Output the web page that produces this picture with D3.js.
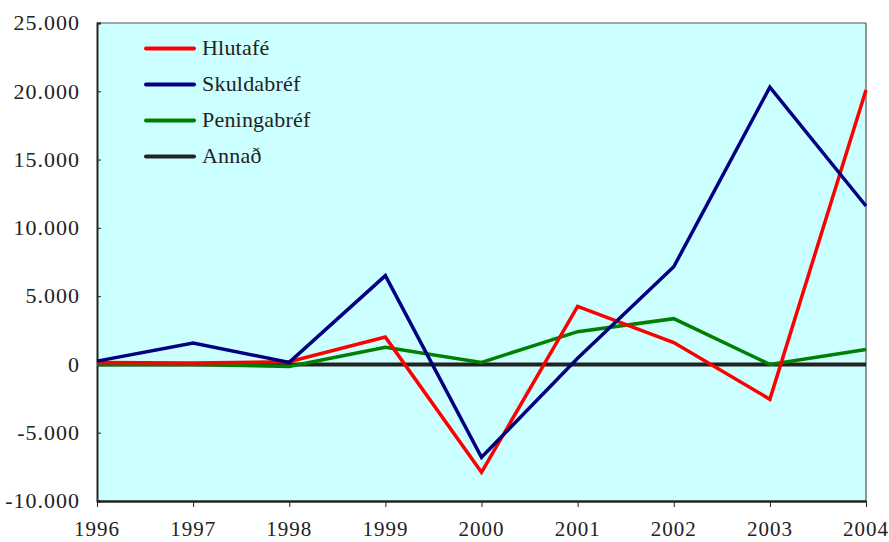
<!DOCTYPE html>
<html>
<head>
<meta charset="utf-8">
<script src="https://cdn.jsdelivr.net/npm/d3@7"></script>
<style>
  body { margin: 0; background: #fff; }
</style>
</head>
<body>
<svg id="chart" width="889" height="542"></svg>
<script>
// years on the x axis
const years = [1996, 1997, 1998, 1999, 2000, 2001, 2002, 2003, 2004];

// series values
const hlutafe     = [150, 100, 200, 2000, -7900, 4250, 1600, -2550, 20100];
const skuldabref  = [240, 1560, 150, 6500, -6800, 450, 7150, 20300, 11600];
const peningabref = [0, 0, -150, 1250, 150, 2400, 3350, 0, 1100];
const annad       = [0, 0, 0, 0, 0, 0, 0, 0, 0];

const seriesNames  = ['Hlutafé', 'Skuldabréf', 'Peningabréf', 'Annað'];
const seriesColors = ['#ff0000', '#000080', '#008000', '#222222'];
const seriesValues = [hlutafe, skuldabref, peningabref, annad];

const yTicks = [-10000, -5000, 0, 5000, 10000, 15000, 20000, 25000];

const FONT = "'Liberation Serif', 'DejaVu Serif', serif";

const margin = {top: 23, right: 23, bottom: 41, left: 97};
const width = 889, height = 542;

const svg = d3.select('#chart');

const x = d3.scaleLinear()
  .domain(d3.extent(years))
  .range([margin.left, width - margin.right]);
const y = d3.scaleLinear()
  .domain([-10000, 25000])
  .range([height - margin.bottom, margin.top]);

// Icelandic style: dot as thousands separator, plain hyphen for minus
const fmt = v => {
  const s = String(Math.abs(v)).replace(/\B(?=(\d{3})+(?!\d))/g, '.');
  return v < 0 ? '-' + s : s;
};

// plot background
svg.append('rect')
  .attr('x', x.range()[0]).attr('y', y.range()[1])
  .attr('width', x.range()[1] - x.range()[0])
  .attr('height', y.range()[0] - y.range()[1])
  .attr('fill', '#ccffff');

// top and right border
svg.append('line')
  .attr('x1', x.range()[0]).attr('x2', x.range()[1])
  .attr('y1', y.range()[1]).attr('y2', y.range()[1])
  .attr('stroke', '#7f8c8c').attr('stroke-width', 1.5);
svg.append('line')
  .attr('x1', x.range()[1]).attr('x2', x.range()[1])
  .attr('y1', y.range()[1]).attr('y2', y.range()[0])
  .attr('stroke', '#333').attr('stroke-width', 1);

// y axis, ticks pointing inward
const yAxis = svg.append('g')
  .attr('transform', `translate(${x.range()[0]},0)`)
  .call(d3.axisRight(y).tickValues(yTicks).tickSize(4).tickFormat(''));
yAxis.select('.domain').attr('stroke', '#222').attr('stroke-width', 2);
yAxis.selectAll('.tick line').attr('stroke', '#222');

svg.append('g').selectAll('text')
  .data(yTicks)
  .join('text')
  .attr('x', 80)
  .attr('y', d => y(d))
  .attr('dy', '0.33em')
  .attr('text-anchor', 'end')
  .style('font-family', FONT)
  .style('font-size', '22px')
  .style('letter-spacing', '1px')
  .attr('fill', '#222')
  .text(fmt);

// x axis
const xAxis = svg.append('g')
  .attr('transform', `translate(0,${y.range()[0]})`)
  .call(d3.axisBottom(x).tickValues(years).tickSize(6).tickSizeOuter(0).tickFormat(''));
xAxis.select('.domain').attr('stroke', '#222').attr('stroke-width', 2.5);
xAxis.selectAll('.tick line').attr('stroke', '#222');

svg.append('g').selectAll('text')
  .data(years)
  .join('text')
  .attr('x', d => x(d))
  .attr('y', 536)
  .attr('text-anchor', 'middle')
  .style('font-family', FONT)
  .style('font-size', '21px')
  .style('letter-spacing', '1px')
  .attr('fill', '#222')
  .text(d => d);

// series lines
const line = d3.line()
  .x((d, i) => x(years[i]))
  .y(d => y(d));

// draw order: black at the bottom, then green, red, navy
[3, 2, 0, 1].forEach(k => {
  svg.append('path')
    .datum(seriesValues[k])
    .attr('fill', 'none')
    .attr('stroke', seriesColors[k])
    .attr('stroke-width', k === 3 ? 4 : 3.5)
    .attr('stroke-linejoin', 'miter')
    .attr('d', line);
});

// legend
const legend = svg.append('g');
seriesNames.forEach((name, i) => {
  const ly = 48.5 + i * 36;
  legend.append('line')
    .attr('x1', 146).attr('x2', 194)
    .attr('y1', ly).attr('y2', ly)
    .attr('stroke', seriesColors[i])
    .attr('stroke-width', 4)
    .attr('stroke-linecap', 'round');
  legend.append('text')
    .attr('x', 202).attr('y', ly)
    .attr('dy', '0.3em')
    .style('font-family', FONT)
    .style('font-size', '22px')
    .style('letter-spacing', '0.2px')
    .attr('fill', '#222')
    .text(name);
});
</script>
</body>
</html>
